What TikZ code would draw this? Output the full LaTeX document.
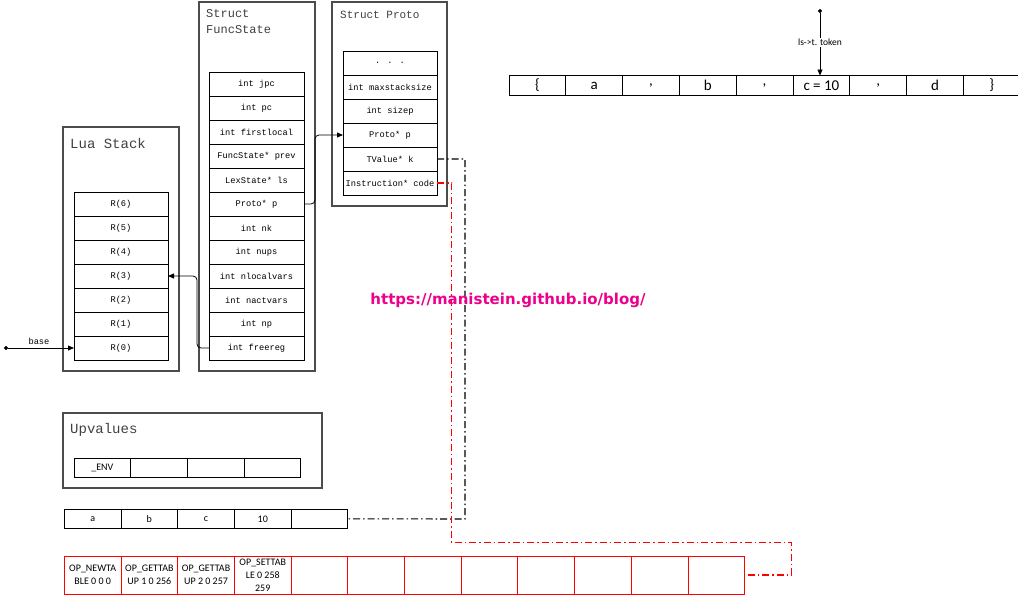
\documentclass[tikz,border=0pt]{standalone}
\usepackage{fontspec}
\newfontfamily\codefont{Liberation Mono}
\newfontfamily\valfont{Carlito}
\newfontfamily\markfont{DejaVu Sans}
\usetikzlibrary{arrows.meta,positioning}

\begin{document}
\begin{tikzpicture}[x=1pt, y=-1pt,
  frame/.style={draw=black!70, line width=1.1pt, inner sep=0pt, outer sep=0pt, anchor=north west},
  title/.style={anchor=west, inner sep=0pt, text=black!75, font=\codefont\fontsize{14}{16}\selectfont},
  cell/.style={draw, line width=0.9pt, minimum width=94pt, minimum height=24pt,
    inner sep=0pt, outer sep=0pt, font=\codefont\fontsize{8.7}{10}\selectfont},
  slot/.style={draw, line width=0.9pt, minimum width=56.7pt, minimum height=19pt,
    inner sep=0pt, outer sep=0pt, font=\valfont\fontsize{10}{11}\selectfont},
  opslot/.style={slot, draw=red, minimum height=38pt, align=center,
    font=\valfont\fontsize{10}{12.8}\selectfont},
  arr/.style={-{Triangle[length=6pt,width=5pt]}, line width=0.8pt},
  dotarr/.style={{Circle[length=4pt]}-{Triangle[length=6pt,width=5pt]}, line width=0.8pt},
  link/.style={line width=1.1pt, dash pattern=on 7pt off 3pt on 1.5pt off 3pt}
]
\useasboundingbox (0,0) rectangle (1018,600);

% Lua stack
\node[frame, minimum width=116pt, minimum height=244pt] (stack) at (63,127) {};
\node[title] (stacktitle) at (70,143) {Lua Stack};
\node[cell, anchor=north west] (r6) at (74,192) {R(6)};
\foreach \i [remember=\i as \j (initially 6)] in {5,...,0}
  \node[cell, below=0pt of r\j] (r\i) {R(\i)};

% FuncState
\node[frame, minimum width=116pt, minimum height=369pt] (fstate) at (199,2) {};
\node[title, anchor=north west, align=left, font=\codefont\fontsize{12}{16}\selectfont]
  (fstitle) at (206,9) {Struct\\FuncState};
\node[cell, minimum width=95pt, anchor=north west] (fs1) at (209,72) {int jpc};
\foreach \t [count=\i from 2, remember=\i as \j (initially 1)] in
  {int pc, int firstlocal, FuncState* prev, LexState* ls, Proto* p, int nk,
   int nups, int nlocalvars, int nactvars, int np, int freereg}
  \node[cell, minimum width=95pt, below=0pt of fs\j] (fs\i) {\t};

% Proto
\node[frame, minimum width=115pt, minimum height=204pt] (proto) at (332,2) {};
\node[title, font=\codefont\fontsize{11}{13}\selectfont] (prtitle) at (340,15) {Struct Proto};
\node[cell, anchor=north west] (pr1) at (343,51) {. . .};
\foreach \t [count=\i from 2, remember=\i as \j (initially 1)] in
  {int maxstacksize, int sizep, Proto* p, TValue* k, Instruction* code}
  \node[cell, below=0pt of pr\j] (pr\i) {\t};

% token stream
\node[slot, minimum width=56.8pt, minimum height=20pt, anchor=north west,
  font=\valfont\fontsize{15}{16}\selectfont] (tk1) at (509,75.5) {\{};
\foreach \t [count=\i from 2, remember=\i as \j (initially 1)] in
  {a, {,}, b, {,}, c = 10, {,}, d, \}}
  \node[slot, minimum width=56.8pt, minimum height=20pt, right=0pt of tk\j,
    font=\valfont\fontsize{15}{16}\selectfont] (tk\i) {\t};
\coordinate (tkdot) at (820,9);
\draw[dotarr] (tkdot) -- (tkdot |- tk6.north)
  node[midway, fill=white, inner sep=1pt, font=\valfont\fontsize{9.5}{10}\selectfont] (tklabel) {ls->t. token};

% upvalues
\node[frame, minimum width=259pt, minimum height=75pt] (upv) at (63,413) {};
\node[title] (upvtitle) at (70,430) {Upvalues};
\node[slot, anchor=north west] (up1) at (74,458) {\_ENV};
\foreach \i [remember=\i as \j (initially 1)] in {2,3,4}
  \node[slot, right=0pt of up\j] (up\i) {};

% constants
\node[slot, anchor=north west] (k1) at (64.3,509.3) {a};
\foreach \t [count=\i from 2, remember=\i as \j (initially 1)] in {b, c, 10, {}}
  \node[slot, right=0pt of k\j] (k\i) {\t};

% code
\node[opslot, anchor=north west] (op1) at (64.3,556) {OP\_NEWTA\\BLE 0 0 0};
\node[opslot, right=0pt of op1] (op2) {OP\_GETTAB\\UP 1 0 256};
\node[opslot, right=0pt of op2] (op3) {OP\_GETTAB\\UP 2 0 257};
\node[opslot, right=0pt of op3] (op4) {OP\_SETTAB\\LE 0 258\\259};
\foreach \i [remember=\i as \j (initially 4)] in {5,...,12}
  \node[opslot, right=0pt of op\j] (op\i) {};

% pointers
\coordinate (basedot) at (4,348);
\draw[dotarr] (basedot) -- (r0.west)
  node[midway, above, font=\codefont\fontsize{8.7}{10}\selectfont] (baselabel) {base};
\draw[arr, rounded corners=4pt] (fs12.west) -- ++(-12,0) |- (r3.east);
\draw[arr, rounded corners=4pt] (fs6.east) -- ++(11,0) |- (pr4.west);

\coordinate (kbend) at (465,519);
\draw[link, draw=black] (pr5.east) -| (kbend) -- (k5.east);
\coordinate (cbend) at (451.7,542.3);
\coordinate (cturn) at (791.3,542.3);
\draw[link, draw=red] (pr6.east) -| (cbend) -- (cturn) |- (op12.east);

\node[text=magenta, font=\markfont\bfseries\fontsize{15}{17}\selectfont] (mark) at (508,300)
  {https://manistein.github.io/blog/};
\end{tikzpicture}
\end{document}
